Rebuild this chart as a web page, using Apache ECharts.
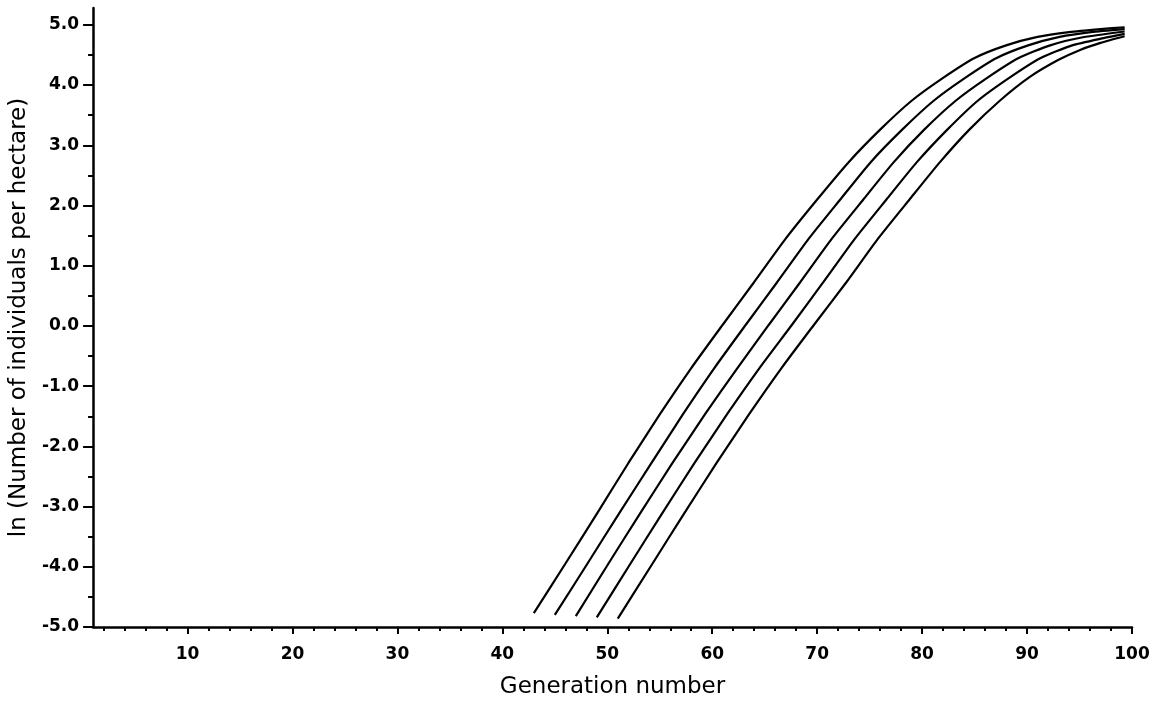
<!DOCTYPE html>
<html>
<head>
<meta charset="utf-8">
<script src="https://cdn.jsdelivr.net/npm/echarts@6/dist/echarts.min.js"></script>
<style>
html,body{margin:0;padding:0;background:#fff;}
#chart{width:1160px;height:704px;}
</style>
</head>
<body>
<div id="chart"></div>
<script>
// Tick positions / labels
var xMajorTicks = [10, 20, 30, 40, 50, 60, 70, 80, 90, 100];
var xMinorTicks = [2, 4, 6, 8, 12, 14, 16, 18, 22, 24, 26, 28, 32, 34, 36, 38, 42, 44, 46, 48, 52, 54, 56, 58, 62, 64, 66, 68, 72, 74, 76, 78, 82, 84, 86, 88, 92, 94, 96, 98];
var yMajorTicks = [-5, -4, -3, -2, -1, 0, 1, 2, 3, 4, 5];
var yMinorTicks = [-4.5, -3.5, -2.5, -1.5, -0.5, 0.5, 1.5, 2.5, 3.5, 4.5];

// Curves: [generation, ln(individuals per hectare)]
var curve1 = [[43.0,-4.77],[46.0,-3.95],[49.0,-3.12],[52.0,-2.28],[55.0,-1.47],[58.0,-0.70],[61.0,0.02],[64.0,0.73],[67.0,1.45],[70.0,2.10],[73.0,2.72],[76.0,3.26],[79.0,3.74],[82.0,4.12],[85.0,4.45],[88.0,4.66],[91.0,4.80],[94.0,4.88],[97.0,4.93],[99.3,4.96]];
var curve2 = [[45.0,-4.80],[48.1,-3.95],[51.1,-3.12],[54.2,-2.28],[57.2,-1.47],[60.2,-0.70],[63.2,0.02],[66.2,0.73],[69.2,1.45],[72.2,2.10],[75.1,2.72],[78.1,3.26],[81.1,3.74],[84.1,4.12],[87.1,4.45],[90.1,4.66],[93.1,4.80],[96.1,4.88],[99.3,4.93]];
var curve3 = [[47.0,-4.82],[50.1,-3.95],[53.1,-3.12],[56.2,-2.28],[59.3,-1.47],[62.4,-0.70],[65.4,0.02],[68.4,0.73],[71.4,1.45],[74.4,2.10],[77.3,2.72],[80.2,3.26],[83.2,3.74],[86.2,4.12],[89.2,4.45],[92.2,4.66],[95.2,4.79],[99.3,4.89]];
var curve4 = [[49.0,-4.84],[52.2,-3.95],[55.2,-3.12],[58.3,-2.28],[61.4,-1.47],[64.5,-0.70],[67.6,0.02],[70.6,0.73],[73.6,1.45],[76.6,2.10],[79.5,2.72],[82.4,3.26],[85.3,3.74],[88.3,4.12],[91.3,4.45],[94.3,4.66],[97.3,4.78],[99.3,4.85]];
var curve5 = [[51.0,-4.86],[54.3,-3.95],[57.3,-3.12],[60.4,-2.28],[63.5,-1.47],[66.6,-0.70],[69.7,0.02],[72.8,0.73],[75.8,1.45],[78.8,2.10],[81.7,2.72],[84.5,3.26],[87.4,3.74],[90.3,4.14],[93.0,4.42],[95.0,4.58],[97.0,4.70],[99.3,4.81]];

var curves = [curve1, curve2, curve3, curve4, curve5];

var chart = echarts.init(document.getElementById('chart'), null, {renderer: 'canvas'});
var labelFont = {fontFamily: 'DejaVu Sans', fontWeight: 'bold', fontSize: 17, color: '#000'};

var series = curves.map(function (c) {
  return {
    type: 'line',
    data: c,
    xAxisIndex: 0,
    yAxisIndex: 0,
    smooth: 0.2,
    showSymbol: false,
    symbol: 'none',
    lineStyle: {color: '#000', width: 2.2},
    silent: true
  };
});

chart.setOption({
  animation: false,
  backgroundColor: '#fff',
  grid: {left: 92, right: 28, top: 8, bottom: 77},
  xAxis: [
    {
      type: 'value', min: 1, max: 100, position: 'bottom',
      name: 'Generation number', nameLocation: 'middle', nameGap: 49,
      nameTextStyle: {fontFamily: 'DejaVu Sans', fontSize: 23, color: '#000'},
      axisLine: {onZero: false, lineStyle: {color: '#000', width: 2.5}},
      axisTick: {show: true, inside: false, length: 7, customValues: xMajorTicks, lineStyle: {color: '#000', width: 2}},
      axisLabel: Object.assign({margin: 19, customValues: xMajorTicks}, labelFont),
      splitLine: {show: false}
    },
    {
      type: 'value', min: 1, max: 100, position: 'bottom',
      axisLine: {show: false, onZero: false},
      axisTick: {show: true, inside: false, length: 4, customValues: xMinorTicks, lineStyle: {color: '#000', width: 2}},
      axisLabel: {show: false},
      splitLine: {show: false}
    }
  ],
  yAxis: [
    {
      type: 'value', min: -5, max: 5.28, position: 'left',
      name: 'ln (Number of individuals per hectare)', nameLocation: 'middle', nameGap: 52,
      nameTextStyle: {fontFamily: 'DejaVu Sans', fontSize: 23, color: '#000'},
      axisLine: {show: true, onZero: false, lineStyle: {color: '#000', width: 2.5}},
      axisTick: {show: true, inside: false, length: 10, customValues: yMajorTicks, lineStyle: {color: '#000', width: 2}},
      axisLabel: Object.assign({margin: 14, customValues: yMajorTicks, formatter: function (v) { return v.toFixed(1); }}, labelFont),
      splitLine: {show: false}
    },
    {
      type: 'value', min: -5, max: 5.28, position: 'left',
      axisLine: {show: false, onZero: false},
      axisTick: {show: true, inside: false, length: 5, customValues: yMinorTicks, lineStyle: {color: '#000', width: 2}},
      axisLabel: {show: false},
      splitLine: {show: false}
    }
  ],
  series: series
});
</script>
</body>
</html>
